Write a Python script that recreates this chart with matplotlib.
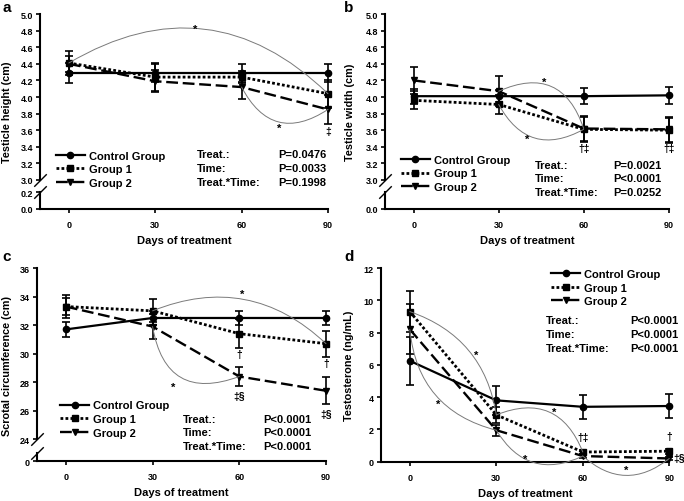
import numpy as np
import matplotlib
matplotlib.use('Agg')
import matplotlib.pyplot as plt

plt.rcParams['font.family'] = ['Liberation Sans', 'DejaVu Sans']
plt.rcParams['font.weight'] = 'bold'
plt.rcParams['axes.linewidth'] = 1.5

# ---------------------------------------------------------------
# data
# ---------------------------------------------------------------
days = [0, 30, 60, 90]
groups = ['Control Group', 'Group 1', 'Group 2']

height_ctrl = [4.29, 4.29, 4.29, 4.29]
height_ctrl_err = [0.12, 0.11, 0.11, 0.11]
height_g1 = [4.41, 4.24, 4.24, 4.04]
height_g1_err = [0.14, 0.17, 0.07, 0.17]
height_g2 = [4.40, 4.19, 4.12, 3.85]
height_g2_err = [0.10, 0.13, 0.15, 0.17]

width_ctrl = [4.01, 4.01, 4.01, 4.02]
width_ctrl_err = [0.09, 0.07, 0.10, 0.10]
width_g1 = [3.96, 3.91, 3.61, 3.60]
width_g1_err = [0.11, 0.11, 0.15, 0.15]
width_g2 = [4.20, 4.07, 3.62, 3.61]
width_g2_err = [0.16, 0.18, 0.15, 0.15]

circ_ctrl = [31.7, 32.5, 32.5, 32.5]
circ_ctrl_err = [0.5, 0.5, 0.5, 0.5]
circ_g1 = [33.3, 33.0, 31.4, 30.7]
circ_g1_err = [0.8, 0.8, 1.0, 0.9]
circ_g2 = [33.3, 31.9, 28.4, 27.4]
circ_g2_err = [0.6, 0.9, 0.7, 0.95]

testo_ctrl = [6.25, 3.8, 3.4, 3.45]
testo_ctrl_err = [1.47, 0.9, 0.75, 0.75]
testo_g1 = [9.3, 2.9, 0.6, 0.65]
testo_g1_err = [1.27, 0.5, 0.15, 0.15]
testo_g2 = [8.2, 1.95, 0.35, 0.2]
testo_g2_err = [1.55, 0.35, 0.1, 0.1]

stats_a = ['P=0.0476', 'P=0.0033', 'P=0.1998']
stats_b = ['P=0.0021', 'P<0.0001', 'P=0.0252']
stats_c = ['P<0.0001', 'P<0.0001', 'P<0.0001']
stats_d = ['P<0.0001', 'P<0.0001', 'P<0.0001']
stat_names = ['Treat.:', 'Time:', 'Treat.*Time:']

styles = [dict(ls='-', marker='o', ms=4.5, lw=1.6),
          dict(ls=(0, (1, 0.8)), marker='s', ms=4, lw=2.0),
          dict(ls=(0, (5, 2)), marker='v', ms=5, lw=1.7)]
ARC = '#7a7a7a'


def broken(lo, hi, gap):
    # piecewise y scale: [0, lo] kept, [lo, hi] squeezed into gap
    def fwd(y):
        y = np.asarray(y, float)
        return np.where(y >= hi, y - hi + lo + gap,
                        np.where(y <= lo, y, lo + (y - lo) * gap / (hi - lo)))

    def inv(v):
        v = np.asarray(v, float)
        return np.where(v >= lo + gap, v - lo - gap + hi,
                        np.where(v <= lo, v, lo + (v - lo) * (hi - lo) / gap))
    return fwd, inv


def panel(rect, series, errs, ylim, yticks, yfmt, ylabel, ylab_x, xlab_y, brk=None):
    ax = fig.add_axes(rect)
    if brk is not None:
        ax.set_yscale('function', functions=broken(*brk))
    lines = []
    for vals, err, st, name in zip(series, errs, styles, groups):
        ax.errorbar(days, vals, yerr=err, fmt='none', ecolor='black',
                    elinewidth=1.2, capsize=2.6, capthick=1.2, clip_on=False, zorder=2)
        ln, = ax.plot(days, vals, color='black', label=name, clip_on=False, zorder=3,
                      markerfacecolor='black', markeredgecolor='black', **st)
        lines.append(ln)
    ax.set_xlim(-10, 90)
    ax.set_ylim(*ylim)
    ax.set_xticks(days)
    ax.set_yticks(yticks)
    ax.set_yticklabels([yfmt.format(t) for t in yticks])
    ax.tick_params(labelsize=6.5, length=3, width=1.2, pad=2)
    ax.tick_params(axis='x', pad=5)
    for s in ['top', 'right']:
        ax.spines[s].set_visible(False)
    ax.set_xlabel('Days of treatment', fontsize=8, fontweight='bold', va='center')
    ax.xaxis.set_label_coords(0.5, xlab_y)
    ax.set_ylabel(ylabel, fontsize=7.8, fontweight='bold', va='center')
    ax.yaxis.set_label_coords(ylab_x, 0.5)
    if brk is not None:
        lo, hi, gap = brk
        ax.spines['left'].set_bounds(hi, ylim[1])
        tr = ax.get_yaxis_transform()
        ax.plot([0, 0], [0, lo], transform=tr, color='black', lw=1.5, clip_on=False)
        slash = [(-1, -1), (1, 1)]
        ax.plot([0, 0], [lo, hi], transform=tr, ls='none', marker=slash, ms=9,
                mec='black', mew=1.0, clip_on=False)
    return ax, lines


def arc(ax, a, b, rad):
    ax.annotate('', xy=b, xytext=a, annotation_clip=False,
                arrowprops=dict(arrowstyle='-', color=ARC, lw=0.7,
                                connectionstyle='arc3,rad=%s' % rad,
                                shrinkA=0, shrinkB=0))


def star(ax, x, y):
    ax.text(x, y, '*', fontsize=8, ha='center', va='center')


def legend_stats(ax, lines, leg_xy, stats, st_x, st_y, dy):
    ax.legend(handles=lines, loc='upper left', bbox_to_anchor=leg_xy, frameon=False,
              fontsize=8, handlelength=2.6, handletextpad=0.4, labelspacing=0.33,
              borderpad=0, borderaxespad=0)
    for i, (n, p) in enumerate(zip(stat_names, stats)):
        ax.text(st_x[0], st_y - i * dy, n, transform=ax.transAxes, fontsize=8, va='center')
        ax.text(st_x[1], st_y - i * dy, p, transform=ax.transAxes, fontsize=8, va='center')


fig = plt.figure(figsize=(6.84, 5.02), dpi=100)

# ---- a ----
ax, lines = panel([0.0585, 0.5817, 0.421, 0.3883],
                  [height_ctrl, height_g1, height_g2],
                  [height_ctrl_err, height_g1_err, height_g2_err],
                  (0, 5.0), [0, 0.2] + list(np.round(np.arange(3.0, 5.01, 0.2), 1)),
                  '{:.1f}', 'Testicle height (cm)', -0.113, -0.159, brk=(0.2, 3.0, 0.15))
legend_stats(ax, lines, (0.055, 0.30), stats_a, (0.545, 0.826), 0.282, 0.072)
arc(ax, (days[0], height_g1[0]), (days[3], height_g1[3]), -0.38)
star(ax, 44, 4.82)
arc(ax, (days[2], height_g2[2]), (days[3], height_g2[3]), 0.55)
star(ax, 73, 3.63)
ax.text(days[3], height_g2[3] - height_g2_err[3] - 0.09, '‡', fontsize=7.5,
        ha='center', va='center')

# ---- b ----
ax, lines = panel([0.5635, 0.5817, 0.414, 0.3883],
                  [width_ctrl, width_g1, width_g2],
                  [width_ctrl_err, width_g1_err, width_g2_err],
                  (0, 5.0), [0] + list(np.round(np.arange(3.0, 5.01, 0.2), 1)),
                  '{:.1f}', 'Testicle width (cm)', -0.126, -0.159, brk=(0.2, 3.0, 0.15))
legend_stats(ax, lines, (0.055, 0.278), stats_b, (0.527, 0.805), 0.226, 0.069)
arc(ax, (days[1], width_g2[1]), (days[2], width_g2[2]), -0.55)
star(ax, 46, 4.18)
arc(ax, (days[1], width_g1[1]), (days[2], width_g1[2]), 0.5)
star(ax, 40, 3.49)
for i in (2, 3):
    ax.text(days[i], width_g2[i] - width_g2_err[i] - 0.08, '†‡', fontsize=7.5,
            ha='center', va='center')

# ---- c ----
ax, lines = panel([0.054, 0.0791, 0.4226, 0.385],
                  [circ_ctrl, circ_g1, circ_g2],
                  [circ_ctrl_err, circ_g1_err, circ_g2_err],
                  (0, 36), [0, 24, 26, 28, 30, 32, 34, 36],
                  '{:d}', 'Scrotal circumference (cm)', -0.105, -0.16, brk=(0.6, 24, 0.94))
legend_stats(ax, lines, (0.08, 0.315), stats_c, (0.504, 0.783), 0.219, 0.07)
arc(ax, (days[1], circ_g1[1]), (days[3], circ_g1[3]), -0.32)
star(ax, 61, 34.2)
arc(ax, (days[1], circ_g2[1]), (days[2], circ_g2[2]), 0.6)
star(ax, 37, 27.7)
for i in (2, 3):
    ax.text(days[i], circ_g1[i] - circ_g1_err[i] - 0.45, '†', fontsize=7.5,
            ha='center', va='center')
    ax.text(days[i], circ_g2[i] - circ_g2_err[i] - 0.65, '‡§', fontsize=7.5,
            ha='center', va='center')

# ---- d ----
ax, lines = panel([0.557, 0.0783, 0.4215, 0.3858],
                  [testo_ctrl, testo_g1, testo_g2],
                  [testo_ctrl_err, testo_g1_err, testo_g2_err],
                  (0, 12), [0, 2, 4, 6, 8, 10, 12],
                  '{:d}', 'Testosterone (ng/mL)', -0.11, -0.16)
legend_stats(ax, lines, (0.59, 0.995), stats_d, (0.572, 0.866), 0.733, 0.074)
arc(ax, (days[0], testo_g1[0]), (days[1], testo_g1[1]), -0.3)
star(ax, 23, 6.6)
arc(ax, (days[0], testo_g2[0]), (days[1], testo_g2[1]), 0.35)
star(ax, 10, 3.6)
arc(ax, (days[1], testo_g1[1]), (days[2], testo_g1[2]), -0.5)
star(ax, 50, 3.1)
arc(ax, (days[1], testo_g2[1]), (days[2], testo_g2[2]), 0.45)
star(ax, 40, 0.15)
arc(ax, (days[2], testo_g2[2]), (days[3], testo_g2[3]), 0.42)
star(ax, 75, -0.5)
ax.text(days[2], testo_g1[2] + 0.95, '†‡', fontsize=7.5, ha='center', va='center')
ax.text(days[3], testo_g1[3] + 0.95, '†', fontsize=7.5, ha='center', va='center')
ax.text(days[3] + 1.3, testo_g2[3], '‡§', fontsize=7.5, ha='left', va='center')

# panel letters
for x, y, s in [(0.003, 0.998, 'a'), (0.503, 0.998, 'b'),
                (0.003, 0.502, 'c'), (0.503, 0.502, 'd')]:
    fig.text(x, y, s, fontsize=11, fontweight='bold', va='top', ha='left')

plt.savefig('out.png', dpi=100)
